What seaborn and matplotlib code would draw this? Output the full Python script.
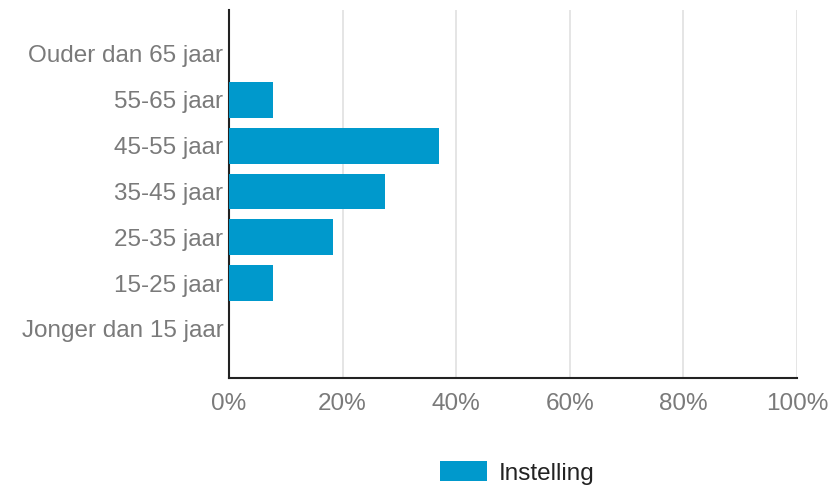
import matplotlib
matplotlib.use("Agg")
import matplotlib.pyplot as plt
import seaborn as sns
import pandas as pd
from matplotlib.patches import Patch

categories = ["Ouder dan 65 jaar", "55-65 jaar", "45-55 jaar", "35-45 jaar",
              "25-35 jaar", "15-25 jaar", "Jonger dan 15 jaar"]
values = [0.0, 7.8, 37.0, 27.5, 18.3, 7.8, 0.0]
series_name = "Instelling"
xticks = [0, 20, 40, 60, 80, 100]
xtick_labels = ["0%", "20%", "40%", "60%", "80%", "100%"]

df = pd.DataFrame({"cat": categories, "val": values})

sns.set_style("white")
plt.rcParams["font.family"] = ["Liberation Sans", "DejaVu Sans"]

fig = plt.figure(figsize=(8.3, 4.88), dpi=100)
ax = fig.add_axes([0.2759, 0.2254, 0.6843, 0.7541])

color = "#0099cc"
sns.barplot(data=df, x="val", y="cat", orient="h", color=color, saturation=1,
            width=0.78, linewidth=0, ax=ax, zorder=3)

ax.set_xlim(0, 100)
ax.set_ylim(7.07, -0.96)
ax.set_xticks(xticks)
ax.set_xticklabels(xtick_labels)
ax.set_xlabel("")
ax.set_ylabel("")
ax.xaxis.grid(True, color="#e0e0e0", linewidth=1.2, zorder=0)
ax.set_axisbelow(True)
for s in ["top", "right"]:
    ax.spines[s].set_visible(False)
ax.spines["left"].set_color("#222222")
ax.spines["bottom"].set_color("#222222")
ax.spines["left"].set_linewidth(1.5)
ax.spines["bottom"].set_linewidth(1.5)
ax.tick_params(axis="x", colors="#7a7a7a", labelsize=17.5, length=0, pad=11)
ax.tick_params(axis="y", colors="#7a7a7a", labelsize=17.5, length=0, pad=4)
for t in ax.get_xticklabels() + ax.get_yticklabels():
    t.set_color("#7a7a7a")

fig.legend(handles=[Patch(facecolor=color, edgecolor="none", label=series_name)],
           loc="center", bbox_to_anchor=(0.623, 0.031), frameon=False,
           fontsize=17.5, handlelength=1.95, handleheight=0.9, handletextpad=0.45,
           labelcolor="#222222")

fig.savefig("out.png", dpi=100)
